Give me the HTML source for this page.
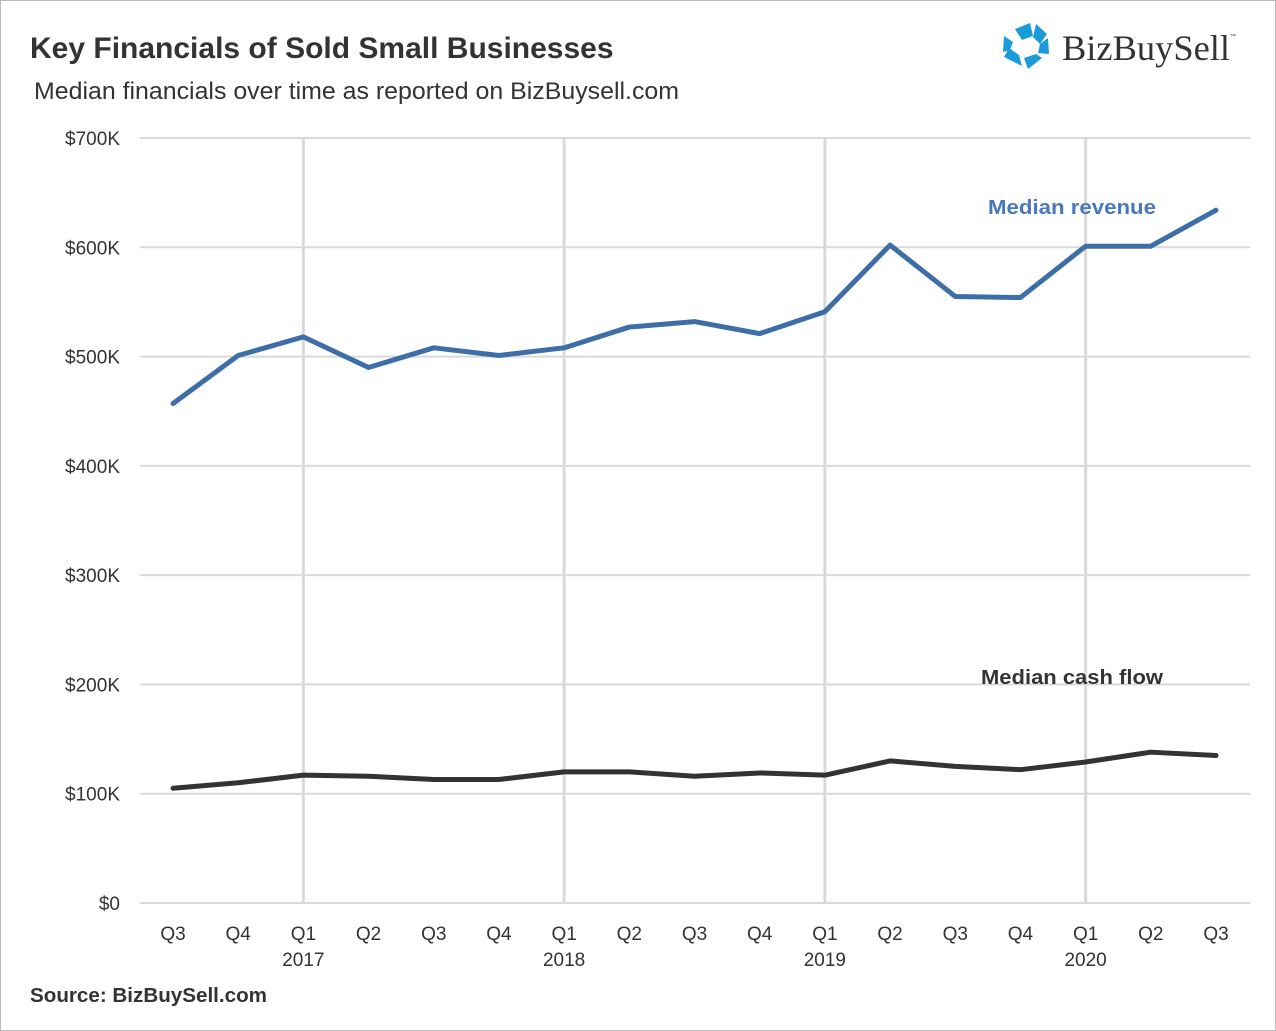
<!DOCTYPE html>
<html><head><meta charset="utf-8"><style>
body{margin:0;background:#fff;}
svg{display:block;font-family:"Liberation Sans",sans-serif;}
</style></head><body>
<svg id="c" width="1276" height="1031" viewBox="0 0 1276 1031">
<rect x="0.5" y="0.5" width="1275" height="1030" fill="#fff" stroke="#bbb"/>
<text x="30" y="58" font-size="30" font-weight="bold" fill="#333">Key Financials of Sold Small Businesses</text>
<text x="34" y="99" font-size="24" fill="#333" textLength="645" lengthAdjust="spacingAndGlyphs">Median financials over time as reported on BizBuysell.com</text>
<g>
<g fill="#1a9cd8">
<polygon points="1015,29 1030,23 1033,36 1022,40"/>
<polygon points="1036,24 1047,34 1040,44 1033,37"/>
<polygon points="1048,38 1049,54 1038,53 1040,44"/>
<polygon points="1042,58 1028,69 1024,58 1036,54"/>
<polygon points="1022,66 1004,57 1009,48 1019,55"/>
<polygon points="1003,52 1004,36 1013,42 1010,50"/>
</g>
<text x="1062" y="60" font-family="Liberation Serif,serif" font-size="36" fill="#333" textLength="168" lengthAdjust="spacingAndGlyphs">BizBuySell</text>
<text x="1230" y="38" font-size="6" fill="#333">™</text>
</g>
<g id="grid"></g>
<g id="axes"></g>
<g id="series"></g>
<text x="988" y="214" font-size="20" font-weight="bold" fill="#4a78c0" textLength="168" lengthAdjust="spacingAndGlyphs">Median revenue</text>
<text x="981" y="684" font-size="20" font-weight="bold" fill="#333" textLength="182" lengthAdjust="spacingAndGlyphs">Median cash flow</text>
<text x="30" y="1002" font-size="20" font-weight="bold" fill="#333" textLength="237" lengthAdjust="spacingAndGlyphs">Source: BizBuySell.com</text>
</svg>
<script>
const quarters=["Q3","Q4","Q1","Q2","Q3","Q4","Q1","Q2","Q3","Q4","Q1","Q2","Q3","Q4","Q1","Q2","Q3"];
const years=["","","2017","","","","2018","","","","2019","","","","2020","",""];
const revenue=[457,501,518,490,508,501,508,527,532,521,541,602,555,554,601,601,634];
const cashflow=[105,110,117,116,113,113,120,120,116,119,117,130,125,122,129,138,135];
const yTicks=[0,100,200,300,400,500,600,700];
const yTickLabels=["$0","$100K","$200K","$300K","$400K","$500K","$600K","$700K"];
const NS="http://www.w3.org/2000/svg";
const x=i=>173+i*(1216-173)/16;
const y=v=>903-v*(903-138)/700;
function mk(t,a,p){const e=document.createElementNS(NS,t);for(const k in a)e.setAttribute(k,a[k]);p.appendChild(e);return e;}
const grid=document.getElementById('grid'),axes=document.getElementById('axes'),ser=document.getElementById('series');
yTicks.forEach((v,i)=>{
 const l=mk('line',{x1:140,x2:1250,y1:y(v),y2:y(v),stroke:'#d9d9d9','stroke-width':2},grid);
 
 
 const t=mk('text',{x:120,y:y(v)+7,'text-anchor':'end','font-size':19,fill:'#333'},axes);
 t.textContent=yTickLabels[i];
 
 
});
years.forEach((yr,i)=>{
 if(yr){const l=mk('line',{x1:x(i),x2:x(i),y1:138,y2:903,stroke:'#d9d9d9','stroke-width':3},grid);
 
 
 const t=mk('text',{x:x(i),y:966,'text-anchor':'middle','font-size':19,fill:'#333'},axes);
 t.textContent=yr;
 
 }
 const q=mk('text',{x:x(i),y:940,'text-anchor':'middle','font-size':19,fill:'#333'},axes);
 q.textContent=quarters[i];
 
 
});
function line(data,color,name){
 const p=mk('polyline',{points:data.map((v,i)=>x(i)+','+y(v)).join(' '),fill:'none',stroke:color,'stroke-width':5,'stroke-linejoin':'round','stroke-linecap':'round'},ser);
 
 
}
line(revenue,'#3e6ea8','revenue-line');
line(cashflow,'#333333','cashflow-line');
</script>
</body></html>
